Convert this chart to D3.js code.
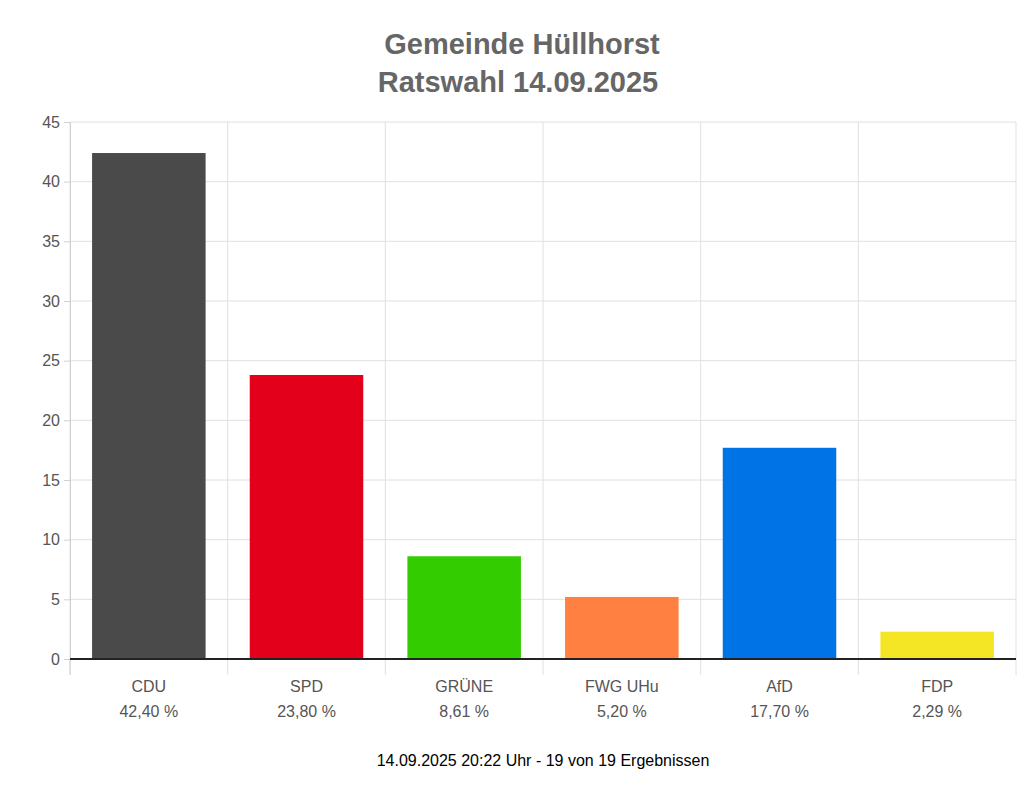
<!DOCTYPE html><html><head><meta charset="utf-8"><script src="https://cdn.jsdelivr.net/npm/d3@7"></script>
<style>body{margin:0;background:#fff}text{font-family:Arial,"Liberation Sans",sans-serif}</style></head><body><svg id="c" width="1024" height="792"></svg>
<script>
const categories=["CDU","SPD","GRÜNE","FWG UHu","AfD","FDP"];
const values=[42.40,23.80,8.61,5.20,17.70,2.29];
const valueLabels=["42,40 %","23,80 %","8,61 %","5,20 %","17,70 %","2,29 %"];
const colors=["#4a4a4a","#e2001a","#33cc00","#ff8040","#0073e6","#f5e625"];
const yTicks=[0,5,10,15,20,25,30,35,40,45];
const svg=d3.select("#c");
const L=70,R=1016,T=122,B=659;
const x=d3.scaleBand().domain(categories).range([L,R]).paddingInner(0.28).paddingOuter(0.14);
const xb=d3.scaleBand().domain(categories).range([L,R]);
const y=d3.scaleLinear().domain([0,45]).range([B,T]);
// horizontal grid
svg.append("g").selectAll("line").data(yTicks).join("line")
 .attr("x1",L).attr("x2",R).attr("y1",d=>y(d)).attr("y2",d=>y(d)).attr("stroke","#e0e0e0");
// vertical grid
const bounds=categories.map(c=>xb(c)).concat([R]);
svg.append("g").selectAll("line").data(bounds).join("line")
 .attr("x1",d=>d).attr("x2",d=>d).attr("y1",T).attr("y2",B+16).attr("stroke","#e0e0e0");
// y axis
const ya=svg.append("g").attr("transform",`translate(${L},0)`).call(d3.axisLeft(y).tickValues(yTicks).tickSize(6).tickPadding(4));
ya.select(".domain").attr("stroke","#d0d0d0");
ya.selectAll(".tick line").attr("stroke","#d0d0d0");
ya.selectAll("text").attr("font-size",16).attr("fill","#555").style("font-family","Arial,'Liberation Sans',sans-serif");
svg.append("line").attr("x1",L).attr("x2",L).attr("y1",B).attr("y2",B+16).attr("stroke","#d0d0d0");
// bars
svg.append("g").selectAll("rect").data(values).join("rect")
 .attr("x",(d,i)=>x(categories[i])).attr("width",x.bandwidth())
 .attr("y",d=>y(d)).attr("height",d=>B-y(d)).attr("fill",(d,i)=>colors[i]);
// zero line
svg.append("line").attr("x1",L).attr("x2",R).attr("y1",B).attr("y2",B).attr("stroke","#222").attr("stroke-width",2);
// x labels
const lab=svg.append("g").selectAll("text").data(categories).join("text")
 .attr("x",d=>xb(d)+xb.bandwidth()/2).attr("text-anchor","middle").attr("font-size",16).attr("fill","#555");
lab.append("tspan").attr("x",d=>xb(d)+xb.bandwidth()/2).attr("y",692).text(d=>d);
lab.append("tspan").attr("x",d=>xb(d)+xb.bandwidth()/2).attr("y",717).text((d,i)=>valueLabels[i]);
// title
svg.append("text").attr("x",522).attr("y",54).attr("text-anchor","middle").attr("font-size",29).attr("font-weight","bold").attr("fill","#666").text("Gemeinde Hüllhorst");
svg.append("text").attr("x",518).attr("y",92).attr("text-anchor","middle").attr("font-size",29).attr("font-weight","bold").attr("fill","#666").text("Ratswahl 14.09.2025");
// footer
svg.append("text").attr("x",543).attr("y",766).attr("text-anchor","middle").attr("font-size",16).attr("fill","#000").text("14.09.2025 20:22 Uhr - 19 von 19 Ergebnissen");
</script></body></html>
